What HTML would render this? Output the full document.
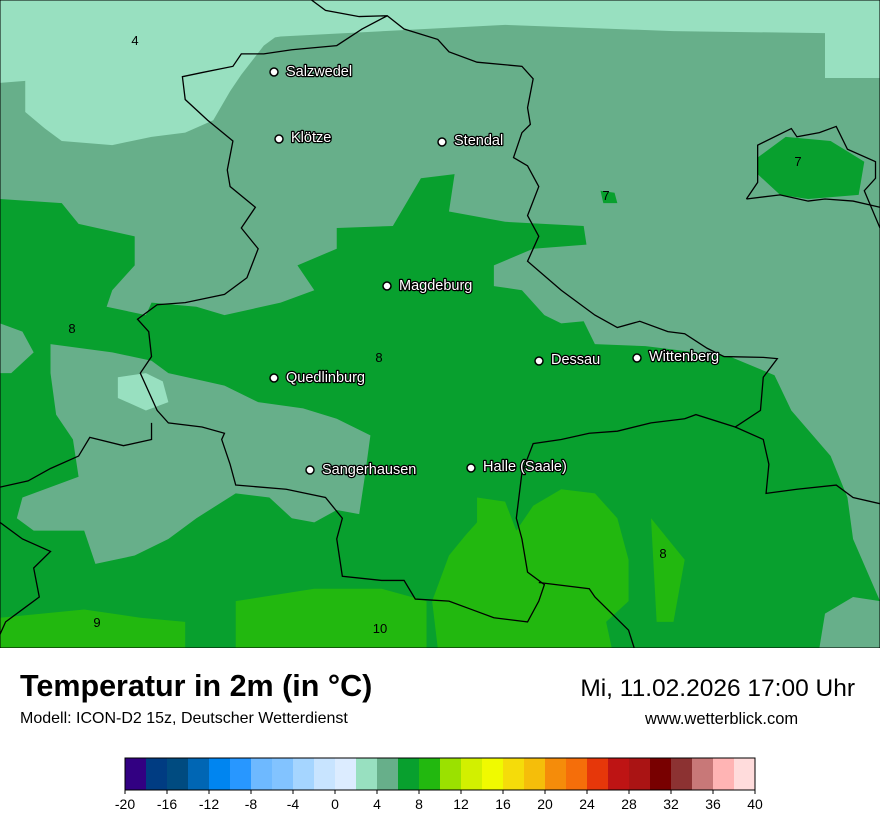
<!DOCTYPE html>
<html><head><meta charset="utf-8"><style>
body{margin:0;width:880px;height:830px;background:#fff;position:relative;overflow:hidden;font-family:"Liberation Sans",sans-serif}
#map{position:absolute;left:0;top:0;width:880px;height:648px}
.t{position:absolute;white-space:nowrap}
</style></head><body>
<svg id="map" width="880" height="648" viewBox="0 0 1568 1563" preserveAspectRatio="none">
<rect x="0" y="0" width="1568" height="1563" fill="#67af8a"/>
<polygon fill="#98e0c0" points="0,0 1568,0 1568,188 1470,188 1470,80 1200,75 900,60 500,88 490,90 470,110 430,180 410,220 380,290 330,320 270,330 200,350 110,340 80,310 45,270 45,195 0,200"/>
<polygon fill="#08a02e" points="0,480 110,490 140,540 240,570 240,640 200,700 190,740 260,760 270,730 350,740 400,760 500,730 560,700 530,640 600,600 600,550 700,545 750,430 810,420 800,510 900,535 1040,545 1045,590 950,600 880,640 880,690 930,700 970,760 1000,780 1040,775 1060,830 1150,835 1300,860 1380,905 1410,990 1480,1100 1510,1200 1520,1300 1568,1450 1568,1563 0,1563"/>
<polygon fill="#67af8a" points="90,830 200,850 270,870 300,900 400,930 460,970 540,985 600,1010 660,1050 650,1150 640,1240 600,1230 560,1260 520,1250 480,1200 420,1190 350,1250 300,1300 240,1340 170,1360 150,1280 60,1280 30,1250 40,1200 140,1150 130,1060 100,1000 90,900"/>
<polygon fill="#67af8a" points="0,780 40,800 60,850 20,900 0,900"/>
<polygon fill="#67af8a" points="1470,1480 1520,1440 1568,1450 1568,1563 1460,1563"/>
<polygon fill="#98e0c0" points="210,910 260,900 290,920 300,970 260,990 210,960"/>
<polygon fill="#08a02e" points="1350,380 1400,330 1480,340 1540,390 1530,470 1440,480 1390,470 1350,420"/>
<polygon fill="#08a02e" points="1070,460 1095,465 1100,490 1075,490"/>
<polygon fill="#22b80f" points="850,1200 900,1210 920,1280 950,1220 1000,1180 1060,1190 1100,1250 1120,1350 1120,1450 1080,1500 1090,1563 780,1563 770,1450 800,1340 830,1290 850,1260"/>
<polygon fill="#22b80f" points="420,1450 560,1420 680,1420 760,1450 760,1563 420,1563"/>
<polygon fill="#22b80f" points="0,1490 150,1470 250,1490 330,1500 330,1563 0,1563"/>
<polygon fill="#22b80f" points="1160,1250 1220,1350 1200,1500 1170,1500"/>
<g fill="none" stroke="#000" stroke-width="1.3" vector-effect="non-scaling-stroke">
<polyline vector-effect="non-scaling-stroke" points="555,0 580,25 640,40 690,38"/>
<polygon vector-effect="non-scaling-stroke" points="690,38 720,70 780,95 800,125 850,150 930,160 950,190 940,260 945,300 930,320 915,380 940,400 960,450 940,520 960,570 940,630 1000,700 1060,760 1100,790 1140,775 1190,800 1220,805 1260,840 1290,860 1360,862 1385,865 1360,910 1355,990 1310,1030 1240,1000 1220,1010 1160,1020 1100,1040 1050,1045 1000,1060 950,1070 930,1140 920,1250 930,1300 940,1380 970,1410 960,1450 940,1500 880,1490 840,1470 800,1450 740,1445 720,1400 680,1400 610,1390 600,1300 610,1250 580,1200 510,1180 420,1170 410,1120 395,1060 400,1045 360,1030 300,1020 280,990 250,900 270,860 265,800 245,770 280,735 330,730 400,710 440,670 460,600 430,550 455,500 410,450 405,410 415,340 370,290 330,240 325,185 360,175 415,160 430,130 470,130 520,120 600,110 645,70"/>
<polyline vector-effect="non-scaling-stroke" points="1310,1030 1360,1060 1370,1120 1365,1190 1420,1180 1490,1170 1520,1200 1568,1215"/>
<polyline vector-effect="non-scaling-stroke" points="960,1405 1050,1420 1060,1440 1090,1480 1120,1520 1130,1563"/>
<polyline vector-effect="non-scaling-stroke" points="270,1020 270,1060 220,1075 160,1055 140,1100 90,1130 50,1160 0,1175"/>
<polyline vector-effect="non-scaling-stroke" points="0,1260 40,1300 90,1330 60,1370 70,1440 40,1470 10,1500 0,1530"/>
<polyline vector-effect="non-scaling-stroke" points="1330,480 1350,440 1350,350 1410,310 1420,330 1460,320 1490,305 1510,360 1560,390 1560,430 1540,460 1568,550"/>
<polyline vector-effect="non-scaling-stroke" points="1330,480 1390,470 1440,485 1470,480 1520,485 1568,500"/>
</g>
<rect x="0" y="0" width="1568" height="1563" fill="none" stroke="#000" stroke-width="1" vector-effect="non-scaling-stroke"/>
</svg>
<svg style="position:absolute;left:0;top:0" width="880" height="648">
<g font-family="Liberation Sans, sans-serif" font-size="13" fill="#000">
<text x="135" y="45" text-anchor="middle">4</text>
<text x="606" y="200" text-anchor="middle">7</text>
<text x="798" y="166" text-anchor="middle">7</text>
<text x="72" y="333" text-anchor="middle">8</text>
<text x="379" y="362" text-anchor="middle">8</text>
<text x="663" y="558" text-anchor="middle">8</text>
<text x="97" y="627" text-anchor="middle">9</text>
<text x="380" y="633" text-anchor="middle">10</text>
</g>
<g fill="#fff" stroke="#000" stroke-width="1.5">
<circle cx="274" cy="72" r="4"/><circle cx="279" cy="139" r="4"/><circle cx="442" cy="142" r="4"/>
<circle cx="387" cy="286" r="4"/><circle cx="274" cy="378" r="4"/><circle cx="539" cy="361" r="4"/>
<circle cx="637" cy="358" r="4"/><circle cx="310" cy="470" r="4"/><circle cx="471" cy="468" r="4"/>
</g>
<g font-family="Liberation Sans, sans-serif" font-size="14.5" fill="#fff" stroke="#000" stroke-width="2.5" paint-order="stroke" stroke-linejoin="round">
<text x="286" y="76">Salzwedel</text>
<text x="291" y="142">Klötze</text>
<text x="454" y="145">Stendal</text>
<text x="399" y="290">Magdeburg</text>
<text x="286" y="382">Quedlinburg</text>
<text x="551" y="364">Dessau</text>
<text x="649" y="361">Wittenberg</text>
<text x="322" y="474">Sangerhausen</text>
<text x="483" y="471">Halle (Saale)</text>
</g>
</svg>
<div class="t" style="left:20px;top:669px;font-size:30.5px;font-weight:bold">Temperatur in 2m (in °C)</div>
<div class="t" style="left:20px;top:710px;font-size:16px">Modell: ICON-D2 15z, Deutscher Wetterdienst</div>
<div class="t" style="right:25px;top:675px;font-size:24.5px">Mi, 11.02.2026 17:00 Uhr</div>
<div class="t" style="left:645px;top:710px;font-size:16.5px">www.wetterblick.com</div>
<svg style="position:absolute;left:0;top:750px" width="880" height="80">
<g>
<rect x="125" y="8" width="21" height="32" fill="#320082"/><rect x="146" y="8" width="21" height="32" fill="#003c82"/><rect x="167" y="8" width="21" height="32" fill="#004b80"/><rect x="188" y="8" width="21" height="32" fill="#0066b4"/><rect x="209" y="8" width="21" height="32" fill="#0085f0"/><rect x="230" y="8" width="21" height="32" fill="#2897ff"/><rect x="251" y="8" width="21" height="32" fill="#6eb9ff"/><rect x="272" y="8" width="21" height="32" fill="#82c3ff"/><rect x="293" y="8" width="21" height="32" fill="#a5d5ff"/><rect x="314" y="8" width="21" height="32" fill="#c8e4ff"/><rect x="335" y="8" width="21" height="32" fill="#dcecff"/><rect x="356" y="8" width="21" height="32" fill="#98e0c0"/><rect x="377" y="8" width="21" height="32" fill="#67af8a"/><rect x="398" y="8" width="21" height="32" fill="#08a02e"/><rect x="419" y="8" width="21" height="32" fill="#22b80f"/><rect x="440" y="8" width="21" height="32" fill="#9be100"/><rect x="461" y="8" width="21" height="32" fill="#d2f000"/><rect x="482" y="8" width="21" height="32" fill="#f0fa00"/><rect x="503" y="8" width="21" height="32" fill="#f5dc0a"/><rect x="524" y="8" width="21" height="32" fill="#f5be0a"/><rect x="545" y="8" width="21" height="32" fill="#f58c0a"/><rect x="566" y="8" width="21" height="32" fill="#f56e0a"/><rect x="587" y="8" width="21" height="32" fill="#e6370a"/><rect x="608" y="8" width="21" height="32" fill="#be1414"/><rect x="629" y="8" width="21" height="32" fill="#aa1414"/><rect x="650" y="8" width="21" height="32" fill="#780000"/><rect x="671" y="8" width="21" height="32" fill="#8c3232"/><rect x="692" y="8" width="21" height="32" fill="#c87878"/><rect x="713" y="8" width="21" height="32" fill="#ffb4b4"/><rect x="734" y="8" width="21" height="32" fill="#ffdcdc"/>
<rect x="125" y="8" width="630" height="32" fill="none" stroke="#000" stroke-width="1"/>
</g>
<g stroke="#000" stroke-width="1">
<line x1="125" y1="40" x2="125" y2="44"/><line x1="167" y1="40" x2="167" y2="44"/><line x1="209" y1="40" x2="209" y2="44"/><line x1="251" y1="40" x2="251" y2="44"/><line x1="293" y1="40" x2="293" y2="44"/><line x1="335" y1="40" x2="335" y2="44"/><line x1="377" y1="40" x2="377" y2="44"/><line x1="419" y1="40" x2="419" y2="44"/><line x1="461" y1="40" x2="461" y2="44"/><line x1="503" y1="40" x2="503" y2="44"/><line x1="545" y1="40" x2="545" y2="44"/><line x1="587" y1="40" x2="587" y2="44"/><line x1="629" y1="40" x2="629" y2="44"/><line x1="671" y1="40" x2="671" y2="44"/><line x1="713" y1="40" x2="713" y2="44"/><line x1="755" y1="40" x2="755" y2="44"/>
</g>
<g font-family="Liberation Sans, sans-serif" font-size="14" text-anchor="middle">
<text x="125" y="59">-20</text><text x="167" y="59">-16</text><text x="209" y="59">-12</text><text x="251" y="59">-8</text><text x="293" y="59">-4</text><text x="335" y="59">0</text><text x="377" y="59">4</text><text x="419" y="59">8</text><text x="461" y="59">12</text><text x="503" y="59">16</text><text x="545" y="59">20</text><text x="587" y="59">24</text><text x="629" y="59">28</text><text x="671" y="59">32</text><text x="713" y="59">36</text><text x="755" y="59">40</text>
</g>
</svg>
</body></html>
